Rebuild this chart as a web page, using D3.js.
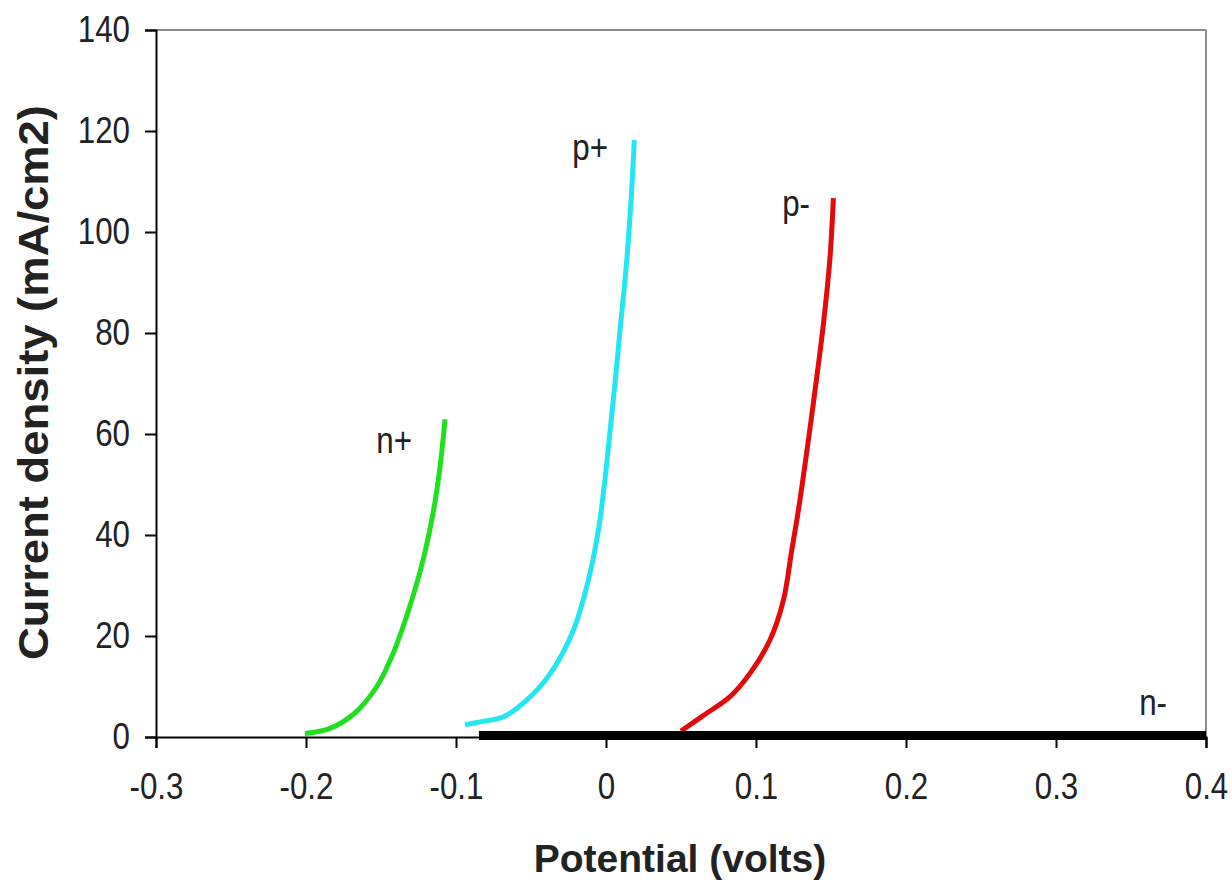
<!DOCTYPE html>
<html><head><meta charset="utf-8">
<script src="https://cdn.jsdelivr.net/npm/d3@7"></script>
<style>body{margin:0;background:#fff}</style>
</head><body>
<svg id="c" width="1232" height="890"></svg>
<script>
// ---- data ----
const xTicks = [-0.3, -0.2, -0.1, 0, 0.1, 0.2, 0.3, 0.4];
const yTicks = [0, 20, 40, 60, 80, 100, 120, 140];
const seriesNames = ["n+", "p+", "p-", "n-"];
const nPlusX = [-0.2007, -0.184, -0.168, -0.153, -0.142, -0.131, -0.122, -0.115, -0.1107, -0.1073];
const nPlusY = [0.7, 1.7, 4.6, 9.9, 16.5, 25.7, 35, 44.8, 53.4, 62.9];
const pPlusX = [-0.094, -0.084, -0.0684, -0.0529, -0.0373, -0.0218, -0.0118, -0.0051, -0.0008, 0.0027, 0.006, 0.0093, 0.0136, 0.0168, 0.0189];
const pPlusY = [2.4, 3, 4, 7.3, 12.5, 21.1, 31, 40.9, 50.7, 60.6, 70, 80.4, 93.5, 106.7, 118.2];
const pMinusX = [0.05, 0.0671, 0.0827, 0.096, 0.1093, 0.1182, 0.1238, 0.1282, 0.1327, 0.1393, 0.1449, 0.1493, 0.1516];
const pMinusY = [1.2, 4.7, 8, 12.6, 19.2, 27, 36.9, 44.8, 54, 68.5, 81.7, 94.8, 106.7];
const nMinusX = [-0.0847, 0.4];
const nMinusY = [0.3, 0.3];

// ---- layout ----
const L = 156, R = 1206, T = 30, B = 737;
const svg = d3.select("#c");
const x = d3.scaleLinear().domain([-0.3, 0.4]).range([L, R]);
const y = d3.scaleLinear().domain([0, 140]).range([B, T]);
const FONT = "'Liberation Sans', Arial, sans-serif";
const SX = 0.87;

// frame (top/right grey)
svg.append("line").attr("x1", L).attr("x2", R).attr("y1", T).attr("y2", T).attr("stroke", "#8c8c8c").attr("stroke-width", 2);
svg.append("line").attr("x1", R).attr("x2", R).attr("y1", T).attr("y2", B).attr("stroke", "#8c8c8c").attr("stroke-width", 2);

// series
const zip = (xs, ys) => xs.map((v, i) => [v, ys[i]]);
const series = [
  {name: seriesNames[0], pts: zip(nPlusX, nPlusY), color: "#1fe01f", w: 5, lab: [-0.1293, 56.3]},
  {name: seriesNames[1], pts: zip(pPlusX, pPlusY), color: "#22e6f2", w: 5, lab: [0.0013, 114.3]},
  {name: seriesNames[2], pts: zip(pMinusX, pMinusY), color: "#e20a0a", w: 5, lab: [0.136, 103.1]},
  {name: seriesNames[3], pts: zip(nMinusX, nMinusY), color: "#000000", w: 9, lab: [0.374, 4.3]}
];
const line = d3.line().x(d => x(d[0])).y(d => y(d[1])).curve(d3.curveCatmullRom.alpha(0.5));

// axes
const yAxis = svg.append("g").attr("transform", `translate(${L},0)`)
  .call(d3.axisLeft(y).tickValues(yTicks).tickSize(11).tickPadding(15).tickFormat(d => String(d)));
const xAxis = svg.append("g").attr("transform", `translate(0,${B})`)
  .call(d3.axisBottom(x).tickValues(xTicks).tickSize(11).tickPadding(25).tickFormat(d => d === 0 ? "0" : d.toFixed(1)));
[yAxis, xAxis].forEach(g => {
  g.select(".domain").attr("stroke", "#000").attr("stroke-width", 2);
  g.selectAll(".tick line").attr("stroke", "#000").attr("stroke-width", 2);
  g.selectAll(".tick text").attr("fill", "#222").attr("font-family", FONT).attr("font-size", 36);
});
yAxis.selectAll(".tick text").attr("transform", "translate(-26,0) scale(" + SX + ",1) translate(26,0)");
xAxis.selectAll(".tick text").attr("transform", "scale(" + SX + ",1)").attr("x", 0);

series.forEach(s => {
  svg.append("path").datum(s.pts).attr("d", line)
    .attr("fill", "none").attr("stroke", s.color).attr("stroke-width", s.w)
    .attr("stroke-linecap", "butt").attr("stroke-linejoin", "round");
});

// series labels
series.forEach(s => {
  const lx = x(s.lab[0]), ly = y(s.lab[1]);
  svg.append("text").attr("transform", `translate(${lx},${ly}) scale(${SX},1)`)
    .attr("text-anchor", "end").attr("font-family", FONT).attr("font-size", 36).attr("fill", "#222")
    .text(s.name);
});

// axis titles
svg.append("text").attr("x", (L + R) / 2 - 1).attr("y", 872).attr("text-anchor", "middle")
  .attr("font-family", FONT).attr("font-weight", "bold").attr("font-size", 39).attr("fill", "#222")
  .text("Potential (volts)");
svg.append("text").attr("transform", "translate(48,382.5) rotate(-90)").attr("text-anchor", "middle")
  .attr("font-family", FONT).attr("font-weight", "bold").attr("font-size", 43).attr("fill", "#222")
  .attr("textLength", 555).attr("lengthAdjust", "spacingAndGlyphs")
  .text("Current density (mA/cm2)");
</script>
</body></html>
